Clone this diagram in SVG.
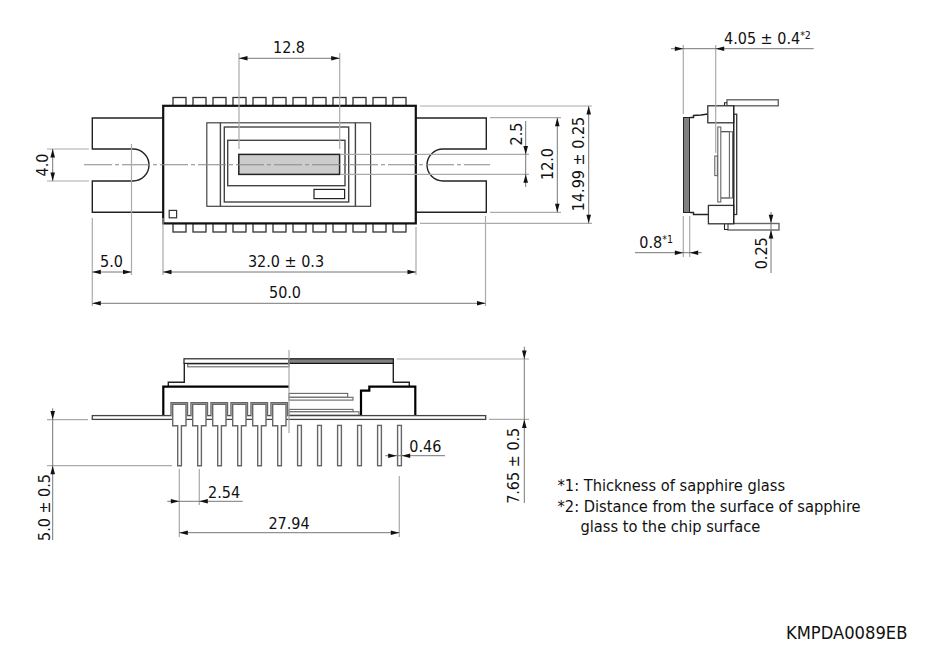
<svg xmlns="http://www.w3.org/2000/svg" width="925" height="661" viewBox="0 0 925 661">
<style>
text{font-family:"DejaVu Sans Condensed","DejaVu Sans",sans-serif;font-stretch:condensed;font-size:16px;fill:#111}
.sm{font-size:10.5px}
.note{font-size:16.3px}
.id{font-size:18.2px}
.d{fill:none;stroke:#aaa;stroke-width:1.2}
.dl{fill:none;stroke:#777;stroke-width:1}
.c{fill:none;stroke:#888;stroke-width:1.1;stroke-dasharray:28 3 4 3}
.k{fill:none;stroke:#222;stroke-width:1.4}
.K{fill:none;stroke:#000;stroke-width:2.2}
.g{fill:#fff;stroke:#666;stroke-width:1.4}
.gt{stroke-width:1.1}
.b{fill:#fff;stroke:#333;stroke-width:1.3}
.t{stroke-width:1.1}
</style>
<defs>
<path id="ar" d="M0 0L-8.5 -2.3V2.3Z" fill="#111"/>
<clipPath id="cut"><rect x="0" y="0" width="925" height="540"/></clipPath>
<g id="pinT"><rect class="b" x="0" y="-8.5" width="13" height="8.5"/></g>
<g id="lead"><rect class="g" x="0" y="0" width="3.8" height="40.3"/></g>
<g id="pinF"><path class="g" d="M0 13.5V0.5H16.5V13.5" /><path class="g" d="M1.7 2H15V23.5H10.4V63.5H6.7V23.5H1.7Z"/></g>
</defs>

<g id="top-view">
<g id="pins-top"><use href="#pinT" x="173" y="106"/><use href="#pinT" x="193" y="106"/><use href="#pinT" x="213" y="106"/><use href="#pinT" x="233" y="106"/><use href="#pinT" x="253" y="106"/><use href="#pinT" x="273" y="106"/><use href="#pinT" x="293" y="106"/><use href="#pinT" x="313" y="106"/><use href="#pinT" x="333" y="106"/><use href="#pinT" x="353" y="106"/><use href="#pinT" x="373" y="106"/><use href="#pinT" x="393" y="106"/></g>
<g id="pins-bottom"><use href="#pinT" x="173" y="232"/><use href="#pinT" x="193" y="232"/><use href="#pinT" x="213" y="232"/><use href="#pinT" x="233" y="232"/><use href="#pinT" x="253" y="232"/><use href="#pinT" x="273" y="232"/><use href="#pinT" x="293" y="232"/><use href="#pinT" x="313" y="232"/><use href="#pinT" x="333" y="232"/><use href="#pinT" x="353" y="232"/><use href="#pinT" x="373" y="232"/><use href="#pinT" x="393" y="232"/></g>
<g id="flange-left"><path class="k" d="M163 118H92.3V149H133A16 16 0 0 1 133 181H92.3V212.3H163"/></g>
<g id="flange-right"><path class="k" d="M416 118H486.3V149H443A16 16 0 0 0 443 181H486.3V212.3H416"/></g>
<g id="package"><rect x="163.2" y="105.8" width="252.6" height="117.6" fill="#fff" stroke="#111" stroke-width="2.2"/></g>
<g id="window">
<rect x="206.8" y="122.8" width="163.8" height="83.5" fill="#fff" stroke="#444" stroke-width="1.2"/>
<path d="M220.4 122.8V206.3M355.4 122.8V206.3" stroke="#444" stroke-width="1.4" fill="none"/>
<rect x="224.3" y="127" width="124.4" height="75" fill="none" stroke="#444" stroke-width="1.4"/>
<rect x="227.7" y="140.3" width="117.3" height="45.4" fill="none" stroke="#444" stroke-width="1.4"/>
<rect x="238.8" y="154.4" width="100.8" height="20" fill="#ccc" stroke="#222" stroke-width="1.5"/>
<rect x="314" y="189.4" width="30.6" height="9.2" fill="none" stroke="#222" stroke-width="1.2"/>
</g>
<g id="index-mark"><rect x="169.2" y="210.4" width="7.4" height="7.4" fill="#fff" stroke="#333" stroke-width="1.2"/></g>
</g>

<g id="side-view">
<rect id="glass" x="683.5" y="117.5" width="6" height="95" fill="#808080" stroke="#222" stroke-width="1"/>
<path class="k" d="M690 117.5H693.5V115.5L701 115L708 114M690 212.5H693.5V214.5H708.5"/>
<rect class="g" x="727" y="99.8" width="51.3" height="6"/>
<rect class="g" x="728" y="223.5" width="51" height="6.5"/>
<path class="k t" d="M724.5 105.7V102.7H727M724.5 224V229.5H728"/>
<rect class="b" x="733.7" y="114.2" width="3" height="100.3"/>
<rect class="b" x="707.8" y="105.8" width="25.9" height="17"/>
<rect class="b" x="708.4" y="205.4" width="25.3" height="18.4"/>
<path class="k t" d="M720.7 131.7H729.3M720.7 198H729.3M733.7 105.8V224"/>
<rect class="g gt" x="717.8" y="127" width="3" height="75"/>
<rect class="g gt" x="729.4" y="131.7" width="3.2" height="66.3"/>
<rect class="g gt" x="714.8" y="156" width="2.6" height="19.6"/>
</g>

<g id="front-view">
<path class="k" d="M168.3 386.5V382.3H184.3V363.3M393.3 363.3V382.3H409.3V386.5"/>
<rect class="g gt" x="187.7" y="364" width="101.3" height="2.8"/>
<rect x="184" y="358.8" width="105" height="4.6" fill="#fff" stroke="#222" stroke-width="1.2"/>
<rect x="289" y="358.8" width="104.3" height="4.6" fill="#808080" stroke="#111" stroke-width="1.2"/>
<path class="K" d="M163.3 416V386.7H289M361 416V390.7H369.3V386.7H415.3V416"/>
<rect class="g gt" x="289" y="393.4" width="58.7" height="3.9"/>
<rect class="g gt" x="289" y="397.3" width="64" height="2.8"/>
<rect class="g gt" x="289" y="409.4" width="64" height="2.4"/>
<rect class="g gt" x="289" y="411.8" width="70" height="3.4"/>
<rect id="pcb" x="92.3" y="415.6" width="393.4" height="3.8" fill="#fff" stroke="#444" stroke-width="1.3"/>
<g id="pins-front">
<use href="#pinF" x="171" y="402.2"/><use href="#pinF" x="191" y="402.2"/><use href="#pinF" x="211" y="402.2"/><use href="#pinF" x="231" y="402.2"/><use href="#pinF" x="251" y="402.2"/><use href="#pinF" x="271" y="402.2"/>
<use href="#lead" x="297.6" y="425.4"/><use href="#lead" x="317.6" y="425.4"/><use href="#lead" x="337.6" y="425.4"/><use href="#lead" x="357.6" y="425.4"/><use href="#lead" x="377.6" y="425.4"/><use href="#lead" x="397.6" y="425.4"/>
</g>
</g>

<g id="connectors">
<path class="c" d="M84 164.7H490"/>
<path class="d" d="M239 53V149M339.7 53V149M420 106H592M420 223.3H592M490 117.7H561M490 212.3H561M340 154.4H529M340 174.3H529M89 149H47M89 181H47M92.3 218V306M131.5 144V275M163 218V275M416 227V275M485.5 216V306"/>
<path class="d" d="M683.3 45V114M715.7 45V153M683.3 216V257M689.7 216V257"/>
<path class="d" d="M47 419.6H88M47 465.7H172M179.3 469V537M199.3 469V505M399.3 476V537M396.7 359H529M489 419.4H529M289 350V433"/>
<path class="dl" d="M239 58.3H339.7M588.7 106V223.3M557.3 117.7V212.3M525.7 121V187M52.7 149V181M92.3 272H131.5M163 272H416M92.3 303.3H485.5M671 48.7H813.7M635 252.7H701.7M771 212V273M52.7 408.3V540M167.3 501.3H242.7M179.3 532.7H399.3M385.3 455.7H445M524.3 346.7V503"/>
<g id="arrows">
<use href="#ar" transform="translate(239 58.3) rotate(180)"/><use href="#ar" transform="translate(339.7 58.3)"/>
<use href="#ar" transform="translate(588.7 106) rotate(-90)"/><use href="#ar" transform="translate(588.7 223.3) rotate(90)"/>
<use href="#ar" transform="translate(557.3 117.7) rotate(-90)"/><use href="#ar" transform="translate(557.3 212.3) rotate(90)"/>
<use href="#ar" transform="translate(525.7 154.4) rotate(90)"/><use href="#ar" transform="translate(525.7 174.3) rotate(-90)"/>
<use href="#ar" transform="translate(52.7 149) rotate(-90)"/><use href="#ar" transform="translate(52.7 181) rotate(90)"/>
<use href="#ar" transform="translate(92.3 272) rotate(180)"/><use href="#ar" transform="translate(131.5 272)"/>
<use href="#ar" transform="translate(163 272) rotate(180)"/><use href="#ar" transform="translate(416 272)"/>
<use href="#ar" transform="translate(92.3 303.3) rotate(180)"/><use href="#ar" transform="translate(485.5 303.3)"/>
<use href="#ar" transform="translate(683.3 48.7)"/><use href="#ar" transform="translate(715.7 48.7) rotate(180)"/>
<use href="#ar" transform="translate(683.3 252.7)"/><use href="#ar" transform="translate(689.7 252.7) rotate(180)"/>
<use href="#ar" transform="translate(771 223.3) rotate(90)"/><use href="#ar" transform="translate(771 230) rotate(-90)"/>
<use href="#ar" transform="translate(52.7 419.6) rotate(90)"/><use href="#ar" transform="translate(52.7 465.7) rotate(-90)"/>
<use href="#ar" transform="translate(179.3 501.3)"/><use href="#ar" transform="translate(199.3 501.3) rotate(180)"/>
<use href="#ar" transform="translate(179.3 532.7) rotate(180)"/><use href="#ar" transform="translate(399.3 532.7)"/>
<use href="#ar" transform="translate(396.7 455.7)"/><use href="#ar" transform="translate(401.7 455.7) rotate(180)"/>
<use href="#ar" transform="translate(524.3 359) rotate(90)"/><use href="#ar" transform="translate(524.3 419.4) rotate(-90)"/>
</g>
</g>

<g id="labels">
<text x="289" y="52.7" text-anchor="middle">12.8</text>
<text transform="translate(522 134) rotate(-90)" text-anchor="middle">2.5</text>
<text transform="translate(553 164) rotate(-90)" text-anchor="middle">12.0</text>
<text transform="translate(584.3 164) rotate(-90)" text-anchor="middle">14.99 ± 0.25</text>
<text transform="translate(48 165) rotate(-90)" text-anchor="middle">4.0</text>
<text x="111.5" y="267" text-anchor="middle">5.0</text>
<text x="286" y="267" text-anchor="middle">32.0 ± 0.3</text>
<text x="285" y="298.3" text-anchor="middle">50.0</text>
<text x="724" y="44">4.05 ± 0.4<tspan class="sm" dy="-5">*2</tspan></text>
<text x="639.3" y="248">0.8<tspan class="sm" dy="-5">*1</tspan></text>
<text transform="translate(767 253.3) rotate(-90)" text-anchor="middle">0.25</text>
<g clip-path="url(#cut)"><text transform="translate(50 507.5) rotate(-90)" text-anchor="middle">5.0 ± 0.5</text></g>
<text x="208" y="497.7">2.54</text>
<text x="289" y="528.5" text-anchor="middle">27.94</text>
<text x="409.3" y="451.7">0.46</text>
<text transform="translate(519.3 465.8) rotate(-90)" text-anchor="middle">7.65 ± 0.5</text>
<text class="note" x="557.5" y="491">*1: Thickness of sapphire glass</text>
<text class="note" x="557.5" y="512.3">*2: Distance from the surface of sapphire</text>
<text class="note" x="580.5" y="531.7">glass to the chip surface</text>
<text class="id" x="786" y="638.5">KMPDA0089EB</text>
</g>
</svg>
